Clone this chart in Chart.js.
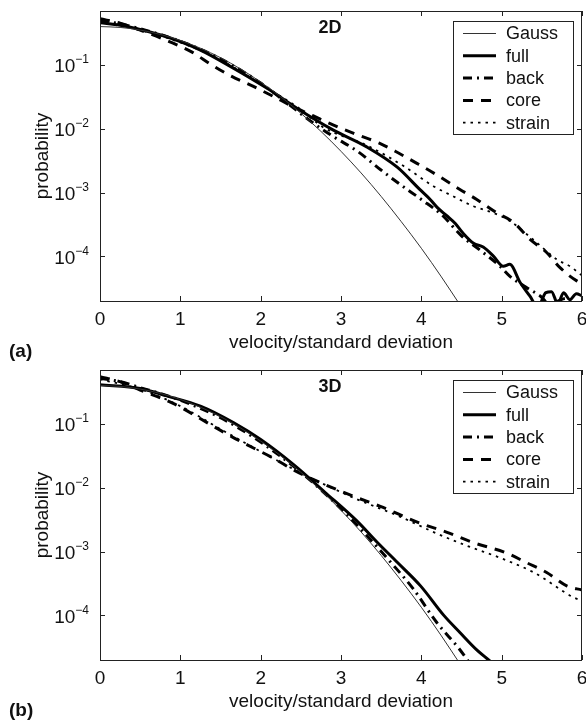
<!DOCTYPE html>
<html>
<head>
<meta charset="utf-8">
<script src="https://cdn.jsdelivr.net/npm/chart.js@4.4.0/dist/chart.umd.min.js"></script>
<style>
    html, body { margin: 0; padding: 0; background: #fff; }
    #wrap { position: relative; width: 586px; height: 725px; overflow: hidden; }
    canvas { position: absolute; left: 0; }
    #chart2d { top: 0; }
    #chart3d { top: 359px; }
</style>
</head>
<body>
<div id="wrap">
    <canvas id="chart2d" width="586" height="366"></canvas>
    <canvas id="chart3d" width="586" height="366"></canvas>
</div>
<script>
// axis ticks
const xTicks = [0, 1, 2, 3, 4, 5, 6];
const yTicks = [1e-4, 1e-3, 1e-2, 1e-1];
const yTickExp = ['\u22124', '\u22123', '\u22122', '\u22121'];
const seriesNames = ['Gauss', 'full', 'back', 'core', 'strain'];

// Gauss reference curve (same in both panels)
const gaussX = [0, 0.25, 0.5, 0.75, 1, 1.25, 1.5, 1.75, 2, 2.25, 2.5, 2.75, 3, 3.25, 3.5, 3.75, 4, 4.25, 4.5];
const gaussY = [0.399, 0.387, 0.352, 0.301, 0.242, 0.183, 0.130, 0.0863, 0.054, 0.0317, 0.0175, 0.0091, 0.00443, 0.00203, 0.00087, 0.00035, 0.000134, 0.0000477, 0.000016];

// (a) 2D
const fullX2 = [0, 0.25, 0.5, 0.83, 1.25, 1.66, 2.08, 2.45, 2.9, 3.32, 3.7, 3.98, 4.11, 4.2, 4.32, 4.42, 4.52, 4.65, 4.77, 4.9, 5.02, 5.1, 5.23, 5.35, 5.45, 5.55, 5.62, 5.7, 5.77, 5.85, 5.93, 6.0];
const fullY2 = [0.46, 0.42, 0.36, 0.276, 0.171, 0.089, 0.043, 0.021, 0.0096, 0.0052, 0.0025, 0.00112, 0.00078, 0.00058, 0.00043, 0.00033, 0.00023, 0.00016, 0.00014, 0.0001, 0.00007, 0.000075, 0.000039, 0.000024, 0.000016, 0.000027, 0.000028, 0.000018, 0.000027, 0.000021, 0.000026, 0.000024];
const backX2 = [0, 0.25, 0.5, 0.75, 1, 1.25, 1.5, 1.75, 2, 2.3, 2.65, 2.9, 3.21, 3.49, 3.74, 4.0, 4.27, 4.5, 4.75, 4.98, 5.1, 5.3, 5.48, 5.6, 5.8, 6.0];
const backY2 = [0.50, 0.44, 0.37, 0.30, 0.235, 0.176, 0.125, 0.083, 0.052, 0.027, 0.0124, 0.0076, 0.0044, 0.0023, 0.00133, 0.00078, 0.00043, 0.00021, 0.00012, 0.00007, 0.000049, 0.000033, 0.000024, 0.000018, 0.000022, 0.000015];
const coreX2 = [0, 0.25, 0.5, 0.87, 1.14, 1.39, 1.64, 1.91, 2.16, 2.41, 2.65, 2.9, 3.2, 3.47, 3.71, 3.96, 4.19, 4.48, 4.69, 4.94, 5.15, 5.35, 5.56, 5.73, 5.94, 6.0];
const coreY2 = [0.53, 0.45, 0.35, 0.23, 0.16, 0.10, 0.066, 0.046, 0.032, 0.022, 0.016, 0.0115, 0.0081, 0.006, 0.0042, 0.0028, 0.0019, 0.00112, 0.00078, 0.00048, 0.00034, 0.000186, 0.000115, 0.000066, 0.000041, 0.000038];
const strainX2 = [0, 0.5, 1, 1.5, 2, 2.5, 2.78, 3.32, 3.78, 4.15, 4.4, 4.65, 4.9, 5.1, 5.4, 5.69, 5.85, 6.0];
const strainY2 = [0.47, 0.35, 0.225, 0.12, 0.05, 0.02, 0.0105, 0.0055, 0.0026, 0.00126, 0.00087, 0.00061, 0.00048, 0.00036, 0.00018, 0.000089, 0.00007, 0.00005];

// (b) 3D
const fullX3 = [0, 0.5, 0.83, 1.25, 1.66, 2.0, 2.41, 2.8, 3.2, 3.45, 3.7, 3.99, 4.28, 4.48, 4.7, 4.86, 5.0];
const fullY3 = [0.41, 0.36, 0.275, 0.19, 0.105, 0.057, 0.023, 0.0085, 0.003, 0.0014, 0.00068, 0.00029, 0.0001, 0.000054, 0.000028, 0.000019, 0.000013];
const backX3 = [0, 0.25, 0.5, 0.75, 1, 1.5, 2, 2.5, 3, 3.3, 3.61, 3.9, 4.19, 4.48, 4.6];
const backY3 = [0.52, 0.46, 0.37, 0.30, 0.235, 0.125, 0.052, 0.0175, 0.0047, 0.0019, 0.0007, 0.00026, 0.000078, 0.000029, 0.000018];
const coreX3 = [0, 0.25, 0.5, 0.91, 1.41, 1.66, 1.91, 2.16, 2.41, 2.66, 3.15, 3.49, 3.98, 4.32, 4.65, 5.06, 5.31, 5.56, 5.81, 6.0];
const coreY3 = [0.55, 0.46, 0.34, 0.21, 0.092, 0.061, 0.042, 0.029, 0.019, 0.0134, 0.0074, 0.0051, 0.0028, 0.002, 0.00138, 0.00095, 0.00067, 0.00047, 0.00029, 0.00025];
const strainX3 = [0, 0.5, 1, 1.5, 2, 2.5, 2.7, 3.2, 3.74, 4.2, 4.57, 5.0, 5.4, 5.9, 6.0];
const strainY3 = [0.50, 0.35, 0.19, 0.083, 0.037, 0.017, 0.0128, 0.0066, 0.0035, 0.0019, 0.00123, 0.00078, 0.00047, 0.00019, 0.00017];

const FONT = '"Liberation Sans", Arial, Helvetica, sans-serif';

function pts(xs, ys) {
    return xs.map((v, i) => ({x: v, y: ys[i]}));
}

// matlab-ish box axes, inward ticks, labels and legend box
const matlabAxes = {
    id: 'matlabAxes',
    afterDatasetsDraw(chart, args, opts) {
        const {ctx, chartArea: a, scales: {x, y}} = chart;
        ctx.save();
        ctx.strokeStyle = '#222';
        ctx.lineWidth = 1;
        ctx.setLineDash([]);
        ctx.strokeRect(a.left + 0.5, a.top + 0.5, a.right - a.left - 1, a.bottom - a.top);

        ctx.beginPath();
        xTicks.forEach(v => {
            const px = Math.round(x.getPixelForValue(v)) + 0.5;
            ctx.moveTo(px, a.bottom); ctx.lineTo(px, a.bottom - 5);
            ctx.moveTo(px, a.top); ctx.lineTo(px, a.top + 5);
        });
        yTicks.forEach(v => {
            const py = Math.round(y.getPixelForValue(v)) + 0.5;
            ctx.moveTo(a.left, py); ctx.lineTo(a.left + 5, py);
            ctx.moveTo(a.right, py); ctx.lineTo(a.right - 5, py);
        });
        ctx.stroke();

        ctx.fillStyle = '#111';
        ctx.font = '19px ' + FONT;
        ctx.textAlign = 'center';
        ctx.textBaseline = 'middle';
        xTicks.forEach(v => ctx.fillText(String(v), x.getPixelForValue(v), a.bottom + 19));

        yTicks.forEach((v, i) => {
            const py = y.getPixelForValue(v);
            ctx.textAlign = 'right';
            ctx.font = '12px ' + FONT;
            const sw = ctx.measureText(yTickExp[i]).width;
            ctx.fillText(yTickExp[i], 89, py - 5);
            ctx.font = '19px ' + FONT;
            ctx.fillText('10', 89 - sw, py + 2);
        });

        // axis titles
        ctx.textAlign = 'center';
        ctx.font = '19px ' + FONT;
        ctx.fillText('velocity/standard deviation', (a.left + a.right) / 2, a.bottom + 42);
        ctx.save();
        ctx.translate(43, (a.top + a.bottom) / 2);
        ctx.rotate(-Math.PI / 2);
        ctx.fillText('probability', 0, 0);
        ctx.restore();

        ctx.font = 'bold 18px ' + FONT;
        ctx.fillText(opts.title, 330, a.top + 17);
        ctx.textAlign = 'left';
        ctx.font = 'bold 19px ' + FONT;
        ctx.fillText(opts.tag, 9, a.bottom + 51);

        // legend
        const lx = 453, ly = 21, lw = 120, lh = 113;
        ctx.fillStyle = '#fff';
        ctx.fillRect(lx, ly, lw, lh);
        ctx.strokeStyle = '#222';
        ctx.lineWidth = 1;
        ctx.strokeRect(lx + 0.5, ly + 0.5, lw, lh);
        chart.data.datasets.forEach((ds, i) => {
            const ry = ly + 12.5 + i * 22.3;
            ctx.beginPath();
            ctx.strokeStyle = ds.borderColor;
            ctx.lineWidth = ds.borderWidth;
            ctx.setLineDash(ds.borderDash || []);
            ctx.moveTo(463, ry);
            ctx.lineTo(496, ry);
            ctx.stroke();
            ctx.setLineDash([]);
            ctx.fillStyle = '#111';
            ctx.font = '18px ' + FONT;
            ctx.textAlign = 'left';
            ctx.fillText(ds.label, 506, ry + 1);
        });
        ctx.restore();
    }
};

function makeChart(id, title, tag, full, back, core, strain) {
    const styles = [
        {borderColor: '#333', borderWidth: 1, borderDash: []},
        {borderColor: '#000', borderWidth: 3, borderDash: []},
        {borderColor: '#000', borderWidth: 3, borderDash: [9, 5, 2, 5]},
        {borderColor: '#000', borderWidth: 3, borderDash: [10, 8]},
        {borderColor: '#000', borderWidth: 1.8, borderDash: [2.5, 5]}
    ];
    const series = [pts(gaussX, gaussY), full, back, core, strain];
    return new Chart(document.getElementById(id), {
        type: 'line',
        data: {
            datasets: series.map((d, i) => Object.assign({
                label: seriesNames[i],
                data: d,
                pointRadius: 0,
                fill: false,
                cubicInterpolationMode: 'monotone'
            }, styles[i]))
        },
        options: {
            responsive: false,
            animation: false,
            events: [],
            layout: {padding: {top: 11, right: 4, left: 0, bottom: 0}},
            scales: {
                x: {
                    type: 'linear', min: 0, max: 6,
                    grid: {display: false}, border: {display: false}, ticks: {display: false},
                    afterFit: s => { s.height = 65; }
                },
                y: {
                    type: 'logarithmic', min: 2e-5, max: 0.7,
                    grid: {display: false}, border: {display: false}, ticks: {display: false},
                    afterFit: s => { s.width = 100; }
                }
            },
            plugins: {
                legend: {display: false},
                tooltip: {enabled: false},
                matlabAxes: {title: title, tag: tag}
            }
        },
        plugins: [matlabAxes]
    });
}

makeChart('chart2d', '2D', '(a)', pts(fullX2, fullY2), pts(backX2, backY2), pts(coreX2, coreY2), pts(strainX2, strainY2));
makeChart('chart3d', '3D', '(b)', pts(fullX3, fullY3), pts(backX3, backY3), pts(coreX3, coreY3), pts(strainX3, strainY3));
</script>
</body>
</html>
